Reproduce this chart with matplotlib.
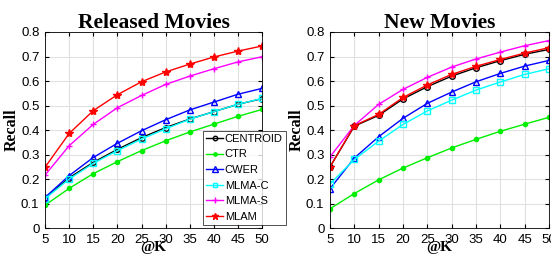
import matplotlib
matplotlib.use('Agg')
import matplotlib.pyplot as plt

# Data
k_values = [5, 10, 15, 20, 25, 30, 35, 40, 45, 50]
methods = ['CENTROID', 'CTR', 'CWER', 'MLMA-C', 'MLMA-S', 'MLAM']

released_centroid = [0.122, 0.205, 0.268, 0.321, 0.369, 0.410, 0.445, 0.475, 0.505, 0.528]
released_ctr = [0.093, 0.162, 0.222, 0.271, 0.316, 0.356, 0.392, 0.424, 0.456, 0.484]
released_cwer = [0.125, 0.214, 0.288, 0.346, 0.397, 0.442, 0.482, 0.514, 0.546, 0.570]
released_mlma_c = [0.120, 0.200, 0.264, 0.316, 0.363, 0.405, 0.444, 0.475, 0.505, 0.529]
released_mlma_s = [0.216, 0.336, 0.423, 0.491, 0.541, 0.586, 0.620, 0.650, 0.678, 0.699]
released_mlam = [0.248, 0.386, 0.479, 0.544, 0.597, 0.637, 0.669, 0.698, 0.722, 0.743]

new_centroid = [0.250, 0.416, 0.460, 0.527, 0.577, 0.620, 0.654, 0.683, 0.709, 0.729]
new_ctr = [0.079, 0.141, 0.197, 0.245, 0.287, 0.327, 0.362, 0.395, 0.424, 0.452]
new_cwer = [0.161, 0.286, 0.373, 0.448, 0.509, 0.555, 0.597, 0.631, 0.661, 0.684]
new_mlma_c = [0.180, 0.280, 0.355, 0.423, 0.478, 0.522, 0.563, 0.596, 0.627, 0.650]
new_mlma_s = [0.291, 0.419, 0.505, 0.566, 0.615, 0.657, 0.690, 0.718, 0.744, 0.765]
new_mlam = [0.250, 0.418, 0.464, 0.533, 0.584, 0.627, 0.660, 0.688, 0.714, 0.736]

released = [released_centroid, released_ctr, released_cwer,
            released_mlma_c, released_mlma_s, released_mlam]
new = [new_centroid, new_ctr, new_cwer, new_mlma_c, new_mlma_s, new_mlam]

# Styles (color, marker, filled, size)
styles = [
    ('black', 'o', False, 4),
    ('#00ee00', '.', True, 6),
    ('blue', '^', False, 5),
    ('cyan', 's', False, 4),
    ('magenta', '+', True, 5),
    ('red', '*', True, 6),
]

fig = plt.figure(figsize=(5.51, 2.58), dpi=100)
ax1 = fig.add_axes([0.0817, 0.116, 0.394, 0.760])
ax2 = fig.add_axes([0.599, 0.116, 0.3975, 0.760])

tick_font = 'Liberation Sans'
label_font = 'Liberation Serif'


def draw_panel(ax, series, title):
    handles = []
    for name, vals, (c, m, filled, ms) in zip(methods, series, styles):
        h, = ax.plot(k_values, vals, color=c, marker=m, markersize=ms,
                     markerfacecolor=c if filled else 'none',
                     markeredgecolor=c, linewidth=1.0, label=name)
        handles.append(h)
    ax.set_xlim(5, 50)
    ax.set_ylim(0, 0.8)
    ax.set_xticks(k_values)
    ax.set_yticks([0, 0.1, 0.2, 0.3, 0.4, 0.5, 0.6, 0.7, 0.8])
    ax.set_yticklabels(['0', '0.1', '0.2', '0.3', '0.4', '0.5', '0.6', '0.7', '0.8'])
    ax.grid(True, color='#e0e0e0', linewidth=0.8)
    ax.set_axisbelow(True)
    ax.tick_params(direction='in', length=3, labelsize=9.5, pad=4,
                   top=True, right=True)
    for lab in ax.get_xticklabels() + ax.get_yticklabels():
        lab.set_fontfamily(tick_font)
    for s in ax.spines.values():
        s.set_linewidth(0.6)
    ax.set_title(title, fontsize=15.5, fontweight='bold', family=label_font, pad=3)
    ax.set_xlabel('@K', fontsize=11, fontweight='bold', family=label_font, labelpad=-3)
    ax.set_ylabel('Recall', fontsize=11.5, fontweight='bold', family=label_font, labelpad=1)
    return handles


handles = draw_panel(ax1, released, 'Released Movies')
draw_panel(ax2, new, 'New Movies')

leg = fig.legend(handles=handles, labels=methods, loc='lower left',
                 bbox_to_anchor=(203 / 551, 33 / 258),
                 prop={'family': tick_font, 'size': 8},
                 frameon=True, fancybox=False, edgecolor='black',
                 borderpad=0.3, labelspacing=0.5, handlelength=1.5,
                 handletextpad=0.15, borderaxespad=0, markerscale=0.8)
leg.get_frame().set_linewidth(0.6)
leg.set_zorder(10)

fig.savefig('out.png', dpi=100, facecolor='white')
